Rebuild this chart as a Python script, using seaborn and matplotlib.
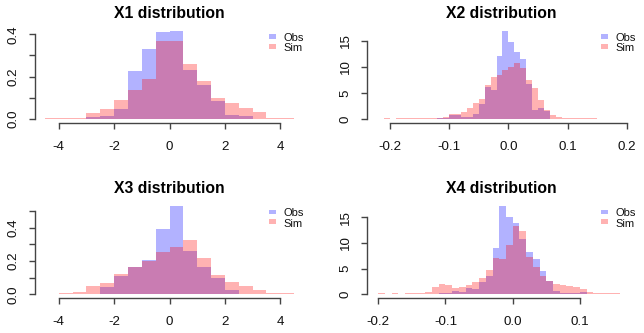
import numpy as np
import pandas as pd
import matplotlib
matplotlib.use("Agg")
import matplotlib.pyplot as plt
from matplotlib.patches import Rectangle
import seaborn as sns

plt.rcParams['font.family'] = ['Liberation Sans', 'DejaVu Sans']

# ---------------- data (histogram densities) ----------------
# X1 / X3: bins of width 0.5 from -4.5 to 4.5
edges_x13 = [round(v, 3) for v in np.arange(-4.5, 4.5001, 0.5)]
x1_obs = [0, 0, 0, 0.0094, 0.0142, 0.047, 0.228, 0.331, 0.411, 0.416, 0.231, 0.161,
          0.085, 0.019, 0.014, 0, 0, 0]
x1_sim = [0.0047, 0.0047, 0.0063, 0.028, 0.047, 0.09, 0.137, 0.189, 0.369, 0.369, 0.26,
          0.18, 0.099, 0.076, 0.052, 0.033, 0.0063, 0.0047]
x3_obs = [0, 0, 0, 0, 0.044, 0.112, 0.164, 0.206, 0.394, 0.53, 0.26, 0.164, 0.098,
          0.026, 0, 0, 0, 0]
x3_sim = [0, 0.006, 0.014, 0.052, 0.068, 0.122, 0.164, 0.2, 0.254, 0.284, 0.326, 0.218,
          0.116, 0.074, 0.05, 0.026, 0.006, 0.006]

# X2: bins of width 0.01 from -0.21 to 0.15
edges_x2 = [round(v, 3) for v in np.arange(-0.21, 0.15001, 0.01)]
x2_obs = [0, 0, 0, 0, 0, 0, 0, 0, 0, 0.25, 0.19, 0.83, 0.83, 0.45, 0.4, 1.0, 2.9, 6.2,
          5.6, 12.1, 16.9, 14.8, 12.85, 11.5, 6.7, 1.8, 2.16, 1.6, 0, 0, 0, 0, 0, 0, 0, 0]
x2_sim = [0.19, 0, 0.19, 0.19, 0.19, 0.19, 0.19, 0.19, 0.19, 0.25, 0.45, 0.95, 1.1, 1.4,
          2.16, 3.2, 3.9, 6.55, 8.1, 8.5, 9.4, 10.0, 10.75, 9.8, 7.5, 6.0, 3.7, 1.8, 0.8,
          0.4, 0.25, 0.25, 0.19, 0.19, 0.19, 0.19]

# X4: bins of width 0.01 from -0.20 to 0.16
edges_x4 = [round(v, 3) for v in np.arange(-0.20, 0.16001, 0.01)]
x4_obs = [0, 0, 0, 0, 0, 0, 0, 0, 0, 0.26, 0.26, 0.65, 0.45, 1.3, 1.0, 2.4, 3.6, 9.0,
          17.2, 15.0, 13.85, 10.75, 8.2, 6.9, 4.5, 2.6, 0.65, 0.19, 0.19, 0.19, 0.45,
          0, 0, 0, 0, 0]
x4_sim = [0.19, 0, 0.19, 0, 0.19, 0.19, 0.26, 0.5, 1.4, 2.0, 1.8, 1.2, 1.4, 1.8, 2.4,
          3.2, 4.7, 7.05, 6.9, 9.6, 13.3, 12.3, 7.25, 5.3, 3.6, 2.6, 2.07, 1.8, 1.6, 1.4,
          1.0, 0.45, 0.32, 0.2, 0.19, 0.19]

titles = ["X1 distribution", "X2 distribution", "X3 distribution", "X4 distribution"]
legend_labels = ["Obs", "Sim"]

# ---------------- styling ----------------
OBS_COL = (0, 0, 1)
SIM_COL = (1, 0, 0)
AX_COL = '#444444'

fig = plt.figure(figsize=(6.44, 3.33), dpi=100)
W, H = 644, 333


def add_axes_px(left, top, width, height):
    return fig.add_axes([left / W, (H - top - height) / H, width / W, height / H])


def draw_panel(ax, edges, obs, sim, title, xlim, ylim, xticks, xlabels,
               yticks, ylabels):
    e = np.asarray(edges, dtype=float)
    centers = (e[:-1] + e[1:]) / 2
    df = pd.DataFrame({'x': centers, 'obs': obs, 'sim': sim})
    sns.histplot(data=df, x='x', weights='obs', bins=list(edges), stat='count',
                 color=OBS_COL, alpha=0.3, edgecolor='none', linewidth=0, ax=ax)
    sns.histplot(data=df, x='x', weights='sim', bins=list(edges), stat='count',
                 color=SIM_COL, alpha=0.3, edgecolor='none', linewidth=0, ax=ax)
    for p in ax.patches:
        p.set_antialiased(False)
    ax.set_xlim(*xlim)
    ax.set_ylim(*ylim)
    ax.set_xlabel('')
    ax.set_ylabel('')
    ax.set_facecolor('white')
    for s in ['top', 'right']:
        ax.spines[s].set_visible(False)
    for s in ['left', 'bottom']:
        ax.spines[s].set_color(AX_COL)
        ax.spines[s].set_linewidth(1.0)
    ax.spines['bottom'].set_bounds(xticks[0], xticks[-1])
    ax.spines['left'].set_bounds(yticks[0], yticks[-1])
    ax.set_xticks(xticks)
    ax.set_xticklabels(xlabels)
    ax.set_yticks(yticks)
    ax.set_yticklabels(ylabels)
    ax.tick_params(axis='both', direction='out', length=4.3, width=1.0,
                   color=AX_COL, labelsize=9.6, labelcolor='#111111')
    ax.tick_params(axis='x', pad=9.0)
    ax.tick_params(axis='y', pad=6.8, labelrotation=90)
    for t in ax.get_yticklabels():
        t.set_verticalalignment('center')
    ax.set_title(title, fontsize=11.3, fontweight='bold', pad=6.8)
    # legend (R style: filled boxes, no frame)
    for i, (lab, col) in enumerate(zip(legend_labels, [OBS_COL, SIM_COL])):
        y0 = 0.878 - i * 0.102
        ax.add_patch(Rectangle((0.871, y0), 0.025, 0.049, transform=ax.transAxes,
                               facecolor=col, alpha=0.3, edgecolor='none',
                               clip_on=False))
        ax.text(0.923, 0.857 - i * 0.109, lab, transform=ax.transAxes,
                fontsize=8.0, va='baseline', ha='left', color='#111111')


ax1 = add_axes_px(35, 27.4, 269, 95.2)
ax2 = add_axes_px(367, 27.4, 269, 95.2)
ax3 = add_axes_px(35, 202.6, 269, 95.2)
ax4 = add_axes_px(367, 202.6, 269, 95.2)

draw_panel(ax1, edges_x13, x1_obs, x1_sim, titles[0], (-4.86, 4.86), (-0.017, 0.4327),
           [-4, -2, 0, 2, 4], ['-4', '-2', '0', '2', '4'],
           [0, 0.1, 0.2, 0.3, 0.4], ['0.0', '', '0.2', '', '0.4'])
draw_panel(ax2, edges_x2, x2_obs, x2_sim, titles[1], (-0.2387, 0.2154), (-0.63, 17.54),
           [-0.2, -0.1, 0.0, 0.1, 0.2], ['-0.2', '-0.1', '0.0', '0.1', '0.2'],
           [0, 5, 10, 15], ['0', '5', '10', '15'])
draw_panel(ax3, edges_x13, x3_obs, x3_sim, titles[2], (-4.86, 4.86), (-0.021, 0.5508),
           [-4, -2, 0, 2, 4], ['-4', '-2', '0', '2', '4'],
           [0, 0.1, 0.2, 0.3, 0.4, 0.5], ['0.0', '', '0.2', '', '0.4', ''])
draw_panel(ax4, edges_x4, x4_obs, x4_sim, titles[3], (-0.2168, 0.1835), (-0.68, 17.8),
           [-0.2, -0.1, 0.0, 0.1], ['-0.2', '-0.1', '0.0', '0.1'],
           [0, 5, 10, 15], ['0', '5', '10', '15'])

fig.savefig('out.png', dpi=100, facecolor='white')
